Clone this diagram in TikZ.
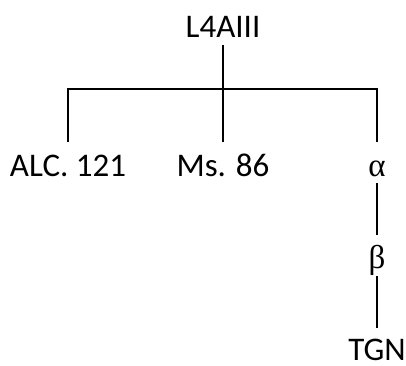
\documentclass[tikz,border=0pt]{standalone}
\usepackage{fontspec}
\setmainfont{Carlito}
\newfontfamily\greekfont{Liberation Serif}
\usetikzlibrary{positioning}

\begin{document}
\begin{tikzpicture}[x=1pt, y=-1pt,
    wit/.style={anchor=base, inner sep=0pt,
        text height=21pt, text depth=0pt, font=\fontsize{33}{40}\selectfont},
    greek/.style={wit, font=\fontsize{33}{40}\selectfont\greekfont},
    stroke/.style={line width=1.5pt},
    drop/.style={stroke, shorten >=13pt},
    link/.style={stroke, shorten <=8pt, shorten >=12pt}]
\useasboundingbox (0,0) rectangle (406,365);
% witnesses
\node[wit] (top) at (223,37) {L4AIII};
\node[wit] (alc) at (68,176) {ALC. 121};
\node[wit] (ms) at (223,176) {Ms. 86};
\node[greek] (alpha) at (377,176) {α};
\node[greek] (beta) at (377,268) {β};
\node[wit] (tgn) at (377,360) {TGN};
% stemma lines
\coordinate (bar) at (0,89);
\draw[stroke, shorten <=8pt] (top.south) -- (top.south |- bar);
\draw[stroke, line cap=rect] (bar -| alc) -- (bar -| alpha);
\draw[drop] (bar -| alc) -- (alc.north);
\draw[drop] (bar -| ms) -- (ms.north);
\draw[drop] (bar -| alpha) -- (alpha.north);
\draw[link, shorten <=7pt] (alpha.south) -- (beta.north);
\draw[link, shorten >=11pt] (beta.south) -- (tgn.north);
\end{tikzpicture}
\end{document}
